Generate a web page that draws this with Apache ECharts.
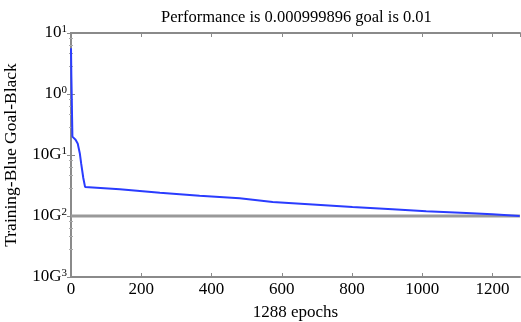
<!DOCTYPE html>
<html>
<head>
<meta charset="utf-8">
<script src="https://cdn.jsdelivr.net/npm/echarts@6/dist/echarts.min.js"></script>
<style>
  html, body { margin: 0; padding: 0; background: #fff; }
  #main { width: 521px; height: 322px; }
</style>
</head>
<body>
<div id="main"></div>
<script>
// training curve
var epochs = [0, 1, 2, 3, 4, 8, 13, 19, 25, 29, 35, 40, 139, 253, 366, 480, 574, 688, 801, 915, 1011, 1125, 1199, 1277];
var perf = [5.6, 2.0, 1.0, 0.43, 0.20, 0.19, 0.178, 0.155, 0.107, 0.072, 0.042, 0.030, 0.0275, 0.024, 0.0214, 0.0195, 0.017, 0.0155, 0.0141, 0.0129, 0.0120, 0.0112, 0.0107, 0.0100];
var goalX = [0, 1278];
var goalY = [0.01, 0.01];
var xMax = 1278;
var yMin = 0.001, yMax = 10;

var serif = 'Liberation Serif';
var axisGray = '#8a8a8a';

function zip(a, b) {
    var out = [];
    for (var i = 0; i < a.length; i++) out.push([a[i], b[i]]);
    return out;
}

function yLabel(v) {
    var e = Math.round(Math.log10(v));
    return '10' + (e < 0 ? 'G' : '') + '{sup|' + Math.abs(e) + '}';
}

var myChart = echarts.init(document.getElementById('main'));
var option = {
    backgroundColor: '#fff',
    animation: false,
    title: {
        text: 'Performance is 0.000999896 goal is 0.01',
        left: 156,
        top: 4,
        textStyle: { fontFamily: serif, fontWeight: 'normal', fontSize: 16.5, color: '#000' }
    },
    grid: { left: 71, right: 1, top: 33, bottom: 45, containLabel: false, outerBoundsMode: 'none' },
    xAxis: [
        {
            type: 'value', min: 0, max: xMax, interval: 200,
            name: '1288 epochs', nameLocation: 'middle', nameGap: 27,
            nameTextStyle: { fontFamily: serif, fontSize: 17, color: '#000' },
            axisLine: { lineStyle: { color: axisGray, width: 2 } },
            axisTick: { inside: true, length: 4, lineStyle: { color: axisGray } },
            axisLabel: {
                fontFamily: serif, fontSize: 17, color: '#000', margin: 4, showMaxLabel: false,
                formatter: function (v) { return String(v); }
            },
            splitLine: { show: false }
        },
        {
            type: 'value', min: 0, max: xMax, interval: 200, position: 'top',
            axisLine: { lineStyle: { color: axisGray, width: 2 } },
            axisTick: { inside: true, length: 4, lineStyle: { color: axisGray } },
            axisLabel: { show: false },
            splitLine: { show: false }
        }
    ],
    yAxis: [
        {
            type: 'log', min: yMin, max: yMax, logBase: 10,
            name: 'Training-Blue Goal-Black', nameLocation: 'middle', nameGap: 51,
            nameTextStyle: { fontFamily: serif, fontSize: 17.5, color: '#000' },
            axisLine: { lineStyle: { color: axisGray, width: 2 } },
            axisTick: { inside: true, length: 4, lineStyle: { color: axisGray } },
            minorTick: { show: true, splitNumber: 5, length: 2, lineStyle: { color: '#aaa' } },
            axisLabel: {
                fontFamily: serif, fontSize: 17, color: '#000', margin: 4,
                formatter: yLabel,
                rich: { sup: { fontFamily: serif, fontSize: 11, color: '#000', verticalAlign: 'top', padding: [0, 0, 8, 0] } }
            },
            splitLine: { show: false }
        },
        {
            type: 'log', min: yMin, max: yMax, logBase: 10, position: 'right',
            axisLine: { lineStyle: { color: axisGray, width: 2 } },
            axisTick: { inside: true, length: 4, lineStyle: { color: axisGray } },
            minorTick: { show: true, splitNumber: 5, length: 2, lineStyle: { color: '#aaa' } },
            axisLabel: { show: false },
            splitLine: { show: false }
        }
    ],
    series: [
        {
            name: 'Goal', type: 'line', data: zip(goalX, goalY),
            symbol: 'none', lineStyle: { color: '#999', width: 3 }
        },
        {
            name: 'Training', type: 'line', data: zip(epochs, perf),
            symbol: 'none', lineStyle: { color: '#2a3cff', width: 2 }
        }
    ]
};
myChart.setOption(option);
</script>
</body>
</html>
